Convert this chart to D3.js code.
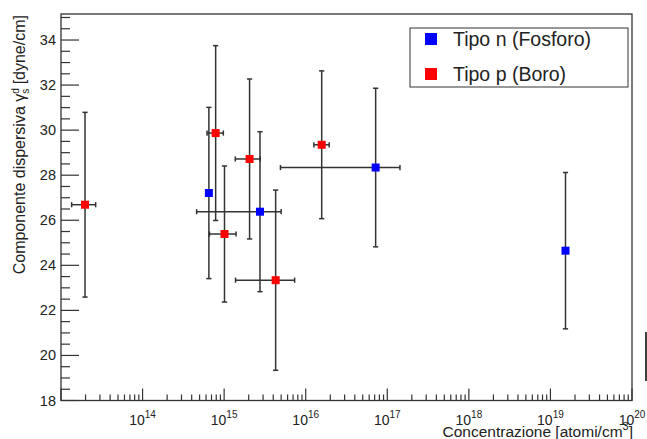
<!DOCTYPE html>
<html><head><meta charset="utf-8">
<script src="https://cdn.jsdelivr.net/npm/d3@7"></script>
<style>body{margin:0;background:#fff}svg{display:block}text{font-family:"Liberation Sans",Arial,Helvetica,sans-serif;fill:#222}</style>
</head><body>
<script>
// Tipo n (Fosforo)
const nConc   = [6.5e14, 2.75e15, 7.2e16, 1.53e19];
const nConcLo = [6.5e14, 4.6e14, 4.9e15, 1.53e19];
const nConcHi = [6.5e14, 5.0e15, 1.43e17, 1.53e19];
const nGamma  = [27.21, 26.38, 28.34, 24.65];
const nErr    = [3.8, 3.55, 3.52, 3.47];
// Tipo p (Boro)
const pConc   = [1.97e13, 7.87e14, 1.01e15, 2.05e15, 4.28e15, 1.57e16];
const pConcLo = [1.35e13, 6.17e14, 6.6e14, 1.37e15, 1.38e15, 1.26e16];
const pConcHi = [2.66e13, 9.77e14, 1.40e15, 2.77e15, 7.31e15, 1.94e16];
const pGamma  = [26.69, 29.87, 25.39, 28.72, 23.34, 29.35];
const pErr    = [4.1, 3.88, 3.02, 3.55, 4.0, 3.28];

const yTicks = [18, 20, 22, 24, 26, 28, 30, 32, 34];
const xExps  = [14, 15, 16, 17, 18, 19, 20];
const seriesNames = ["Tipo n (Fosforo)", "Tipo p (Boro)"];
const seriesColors = ["#0000ff", "#ff0000"];

const W = 647, H = 439;
const L = 61, R = 632, T = 14, B = 400.5;
const svg = d3.select("body").append("svg").attr("width", W).attr("height", H);

const x = d3.scaleLog().domain([1e13, 1e20]).range([L, R]);
const y = d3.scaleLinear().domain([18, 18 + (B - T) / 22.53]).range([B, T]);

const axisCol = "#333";
// frame
svg.append("rect").attr("x", L).attr("y", T).attr("width", R - L).attr("height", B - T)
  .attr("fill", "none").attr("stroke", axisCol).attr("stroke-width", 1.3);

// y ticks
const yMinor = d3.range(18, 35.01, 0.5);
svg.append("g").selectAll("line").data(yMinor).join("line")
  .attr("x1", L).attr("x2", d => L + (d % 2 === 0 ? 18 : 9))
  .attr("y1", d => y(d)).attr("y2", d => y(d))
  .attr("stroke", axisCol).attr("stroke-width", 1.2);
svg.append("g").selectAll("text").data(yTicks).join("text")
  .attr("x", 56).attr("y", d => y(d) + 5).attr("text-anchor", "end")
  .attr("font-size", 14.5).text(d => d);

// x ticks
const xMinor = [];
for (let e = 13; e < 20; e++) for (let m = 1; m <= 9; m++) xMinor.push({v: m * Math.pow(10, e), major: m === 1});
xMinor.push({v: 1e20, major: true});
svg.append("g").selectAll("line").data(xMinor).join("line")
  .attr("x1", d => x(d.v)).attr("x2", d => x(d.v))
  .attr("y1", B).attr("y2", d => B - (d.major ? 12 : 6))
  .attr("stroke", axisCol).attr("stroke-width", 1.2);
const xl = svg.append("g").selectAll("text").data(xExps).join("text")
  .attr("x", d => x(Math.pow(10, d))).attr("y", 424.5).attr("text-anchor", "middle")
  .attr("font-size", 14);
xl.append("tspan").text("10");
xl.append("tspan").attr("dy", -6.5).attr("font-size", 10).text(d => d);

// axis titles
const xt = svg.append("text").attr("x", 633).attr("y", 437).attr("text-anchor", "end").attr("font-size", 15.5);
xt.append("tspan").text("Concentrazione [atomi/cm");
xt.append("tspan").attr("dy", -7).attr("font-size", 11).text("3");
xt.append("tspan").attr("dy", 7).text("]");

const yt = svg.append("text").attr("transform", "translate(25,15) rotate(-90)")
  .attr("text-anchor", "end").attr("font-size", 16);
yt.append("tspan").text("Componente dispersiva γ");
yt.append("tspan").attr("dy", -6).attr("font-size", 10).text("d");
yt.append("tspan").attr("dx", -5.6).attr("dy", 10).attr("font-size", 10).text("s");
yt.append("tspan").attr("dy", -4).text(" [dyne/cm]");

// data
const series = [
  nConc.map((c, i) => ({c, lo: nConcLo[i], hi: nConcHi[i], g: nGamma[i], e: nErr[i]})),
  pConc.map((c, i) => ({c, lo: pConcLo[i], hi: pConcHi[i], g: pGamma[i], e: pErr[i]}))
];
const errCol = "#333", cap = 2.6, ms = 8;
series.forEach((pts, si) => {
  const g = svg.append("g");
  pts.forEach(p => {
    const cx = x(p.c), cy = y(p.g);
    const y1 = y(p.g + p.e), y2 = y(p.g - p.e);
    g.append("line").attr("x1", cx).attr("x2", cx).attr("y1", y1).attr("y2", y2).attr("stroke", errCol).attr("stroke-width", 1.5);
    [y1, y2].forEach(yy => g.append("line").attr("x1", cx - cap).attr("x2", cx + cap).attr("y1", yy).attr("y2", yy).attr("stroke", errCol).attr("stroke-width", 1.5));
    if (p.hi > p.lo) {
      const x1 = x(p.lo), x2 = x(p.hi);
      g.append("line").attr("x1", x1).attr("x2", x2).attr("y1", cy).attr("y2", cy).attr("stroke", errCol).attr("stroke-width", 1.5);
      [x1, x2].forEach(xx => g.append("line").attr("x1", xx).attr("x2", xx).attr("y1", cy - cap).attr("y2", cy + cap).attr("stroke", errCol).attr("stroke-width", 1.5));
    }
  });
  g.selectAll("rect").data(pts).join("rect")
    .attr("x", d => x(d.c) - ms / 2).attr("y", d => y(d.g) - ms / 2)
    .attr("width", ms).attr("height", ms).attr("fill", seriesColors[si]);
});

// legend
const lg = svg.append("g");
lg.append("rect").attr("x", 410).attr("y", 28).attr("width", 218).attr("height", 59)
  .attr("fill", "#fff").attr("stroke", "#333").attr("stroke-width", 1);
seriesNames.forEach((n, i) => {
  const cy = 39 + i * 35;
  lg.append("rect").attr("x", 425).attr("y", cy - 6).attr("width", 12).attr("height", 12).attr("fill", seriesColors[i]);
  lg.append("text").attr("x", 453).attr("y", cy + 7).attr("font-size", 19.5).text(n);
});

// stray edge mark present in the reference
svg.append("line").attr("x1", 646).attr("x2", 646).attr("y1", 332).attr("y2", 381).attr("stroke", "#000").attr("stroke-width", 1.5);
</script>
</body></html>
